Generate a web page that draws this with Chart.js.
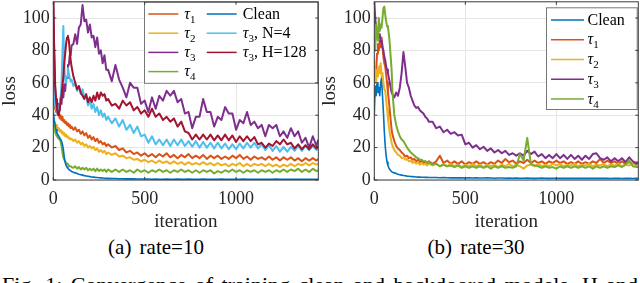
<!DOCTYPE html>
<html>
<head>
<meta charset="utf-8">
<script src="https://cdn.jsdelivr.net/npm/chart.js@4.4.0/dist/chart.umd.min.js"></script>
<style>
  body { margin: 0; background: #fff; }
  #page { position: relative; width: 640px; height: 283px; overflow: hidden;
          font-family: 'Liberation Serif', 'Times New Roman', serif; color: #000; }
  canvas { position: absolute; top: 0; }
  .sub { position: absolute; top: 237px; width: 312px; text-align: center;
         font-size: 21px; line-height: 21px; word-spacing: 3px; }
  #fig { position: absolute; left: 2px; top: 274px; width: 636px;
         font-size: 22px; line-height: 22px; text-align: justify; text-align-last: justify; }
</style>
</head>
<body>
<div id="page">
  <canvas id="c10" width="320" height="232" style="left:0;width:320px;height:232px"></canvas>
  <canvas id="c30" width="320" height="232" style="left:320px;width:320px;height:232px"></canvas>
  <div class="sub" style="left:0">(a) rate=10</div>
  <div class="sub" style="left:320px">(b) rate=30</div>
  <div id="fig">Fig. 1: Convergence of training clean and backdoored models. H and</div>
</div>
<script>
const iters = [0, 5, 10, 15, 20, 25, 30, 35, 40, 45, 50, 55, 60, 65, 70, 75, 80, 85, 90, 95, 100,
  110, 120, 130, 140, 150, 160, 170, 180, 190, 200, 210, 220, 230, 240, 250, 260, 270, 280, 290, 300,
  320, 340, 360, 380, 400, 420, 440, 460, 480, 500, 520, 540, 560, 580, 600, 620, 640, 660, 680, 700,
  720, 740, 760, 780, 800, 820, 840, 860, 880, 900, 920, 940, 960, 980, 1000, 1020, 1040, 1060, 1080, 1100,
  1120, 1140, 1160, 1180, 1200, 1220, 1240, 1260, 1280, 1300, 1320, 1340, 1360, 1380, 1400, 1420, 1440,
  1450]
const xTicks = [0, 500, 1000]

// (a) rate=10
const r10Tau1 = [50, 46, 44, 42, 43, 40, 41, 38, 40, 37, 39, 36, 37, 35, 36, 34, 35, 33, 34, 32, 33,
  31, 32.5, 30, 31, 28.5, 30, 27.5, 29, 26, 27.5, 25, 26.5, 24, 25.5, 23, 24, 22, 23, 21, 22,
  20, 21, 18.5, 19.5, 17, 18, 16, 17, 15, 16.5, 14.5, 16, 14, 16, 14.5, 16.5, 14, 15.5, 13.5, 15.5,
  14, 16, 13.5, 15, 13.5, 15.5, 13, 15, 13.5, 15, 13, 14.5, 13, 15, 13.5, 15.5, 13, 14.5, 12.5, 14.5,
  13, 14, 12.5, 14.5, 12.5, 14, 12, 14, 12.5, 14, 12, 13.5, 11.5, 13.5, 12, 13.5, 12,
  13]
const r10Tau2 = [38, 36, 35, 33, 34, 31, 32, 30, 31, 29, 30, 28, 29, 27, 28, 26.5, 27, 25.5, 26, 25, 25.5,
  24, 25, 23, 24, 22, 23, 21, 22, 20, 21, 19.5, 20.5, 18.5, 19.5, 17.5, 18.5, 17, 18, 16, 17,
  15.5, 16.5, 14.5, 15, 13.5, 14, 12.5, 13, 11.5, 12.5, 11, 12, 10.5, 12, 10.5, 11.5, 10, 11.5, 10, 11,
  9.5, 11, 9.5, 10.5, 9.5, 11, 9.5, 10.5, 9, 10.5, 9, 10, 8.5, 10, 9, 10.5, 8.5, 10, 8.5, 10,
  9, 10, 8.5, 10, 8.5, 9.5, 8, 9.5, 8.5, 10, 8.5, 10, 9, 10.5, 9, 10.5, 9.5,
  10]
const r10Tau3 = [112, 78, 58, 48, 45, 41, 47, 43, 51, 47, 55, 51, 59, 55, 63, 63, 71, 71, 77, 77, 83,
  84, 90, 84, 94, 96, 108, 98, 99, 91, 96, 88, 89, 82, 88, 78, 80, 72, 77, 68, 68,
  61, 71, 62, 57, 51, 60, 57, 57, 47, 49, 42, 51, 44, 52, 49, 55, 52, 55, 48, 50,
  41, 42, 32, 39, 39, 50, 42, 42, 33, 39, 37, 45, 41, 41, 31, 37, 35, 42, 34, 36,
  32, 34, 27, 34, 32, 34, 27, 30, 26, 32, 27, 30, 23, 26, 20, 27, 21,
  25]
const r10Tau4 = [36, 33, 30, 28, 27, 26, 25.5, 25, 24, 21, 17, 14, 12.5, 11.5, 10.5, 10, 9.5, 9, 8.5, 8.5, 8,
  7.5, 8.5, 7, 8, 6.5, 7.5, 6.5, 7.5, 6, 7, 6, 7, 5.5, 7, 5.5, 6.5, 5.5, 6.5, 5, 6.5,
  5, 6.5, 5, 6.5, 5, 6, 4.5, 6.5, 5, 6, 4.5, 6, 5, 6.5, 5, 6, 4.5, 6, 5, 6.5,
  5, 6, 4.5, 6, 4.5, 6, 5, 6, 4, 5.5, 4.5, 6, 5, 6.5, 5, 6, 4.5, 6, 5, 6,
  4.5, 6, 5, 6, 4.5, 6, 5, 6.5, 5, 6.5, 5.5, 7, 5, 6.5, 5, 7, 5.5,
  6]
const r10Clean = [42, 37, 34, 31, 29, 28, 27, 26, 25, 24, 22, 19, 14, 11, 9, 8, 7.2, 6.6, 6.1, 5.7, 5.3,
  4.8, 4.4, 4.0, 3.6, 3.3, 3.0, 2.7, 2.5, 2.3, 2.1, 1.9, 1.8, 1.6, 1.5, 1.4, 1.3, 1.2, 1.1, 1.0, 1.0,
  0.9, 0.9, 0.8, 0.8, 0.7, 0.7, 0.7, 0.6, 0.6, 0.6, 0.6, 0.5, 0.6, 0.5, 0.5, 0.6, 0.5, 0.5, 0.6, 0.5,
  0.5, 0.6, 0.5, 0.4, 0.5, 0.6, 0.5, 0.4, 0.5, 0.5, 0.6, 0.4, 0.5, 0.5, 0.4, 0.5, 0.6, 0.4, 0.5, 0.5,
  0.4, 0.5, 0.5, 0.4, 0.5, 0.6, 0.4, 0.5, 0.4, 0.5, 0.5, 0.4, 0.5, 0.4, 0.5, 0.4, 0.5,
  0.4]
const r10N4 = [62, 52, 46, 44, 42, 44, 43, 47, 50, 60, 78, 95, 70, 62, 60, 64, 69, 66, 63, 61, 62,
  58, 60, 55, 58, 53, 56, 51, 52, 46, 49, 44, 47, 42, 45, 40, 43, 39, 41, 37, 39,
  35, 38, 33, 37, 31, 34, 29, 33, 27, 28, 23, 27, 22, 25, 21.5, 25, 21, 25, 21.5, 25,
  21, 24, 20.5, 24, 20, 23.5, 20, 23, 19.5, 23, 19.5, 22.5, 19, 22, 19, 22.5, 19.5, 23, 20, 23,
  19.5, 22, 18.5, 21.5, 18, 21, 17.5, 20.5, 17.5, 20.5, 18, 21, 18, 21, 18.5, 21, 18.5,
  20]
const r10H128 = [112, 80, 58, 50, 44, 41, 40, 44, 48, 52, 58, 64, 72, 78, 84, 88, 89, 86, 80, 74, 70,
  64, 60, 56, 58, 54, 52, 50, 53, 48, 51, 48, 52, 49, 54, 50, 54, 52, 53, 49, 50,
  46, 47, 44, 49, 46, 48, 43, 45, 41, 43, 39, 44, 39, 41, 37, 39, 36, 38, 33, 36,
  30, 29, 25, 28, 25, 28, 25, 28, 24.5, 27.5, 24.5, 28, 24.5, 27.5, 23.5, 27, 24, 27, 24, 26.5,
  22, 23, 20, 22.5, 21, 24, 22, 25, 22, 23, 19.5, 22, 19, 21.5, 19, 22, 19.5,
  21]

// (b) rate=30
const r30Clean = [40, 58, 52, 60, 54, 57, 52, 60, 63, 52, 42, 30, 21, 15, 11, 9, 7.5, 6.5, 5.8, 5.2, 4.8,
  4.4, 4.0, 3.6, 3.3, 3.0, 2.8, 2.6, 2.4, 2.3, 2.2, 2.1, 2.0, 1.9, 1.8, 1.8, 1.7, 1.7, 1.6, 1.6, 1.5,
  1.5, 1.5, 1.4, 1.5, 1.4, 1.3, 1.4, 1.3, 1.3, 1.2, 1.3, 1.2, 1.3, 1.2, 1.2, 1.3, 1.2, 1.1, 1.2, 1.2,
  1.1, 1.2, 1.1, 1.2, 1.1, 1.1, 1.2, 1.1, 1.0, 1.1, 1.2, 1.1, 1.0, 1.1, 1.1, 1.0, 1.1, 1.0, 1.1, 1.0,
  1.0, 1.1, 1.0, 1.0, 1.1, 1.0, 1.0, 1.1, 1.0, 0.9, 1.0, 1.0, 0.9, 1.0, 1.0, 0.9, 1.0,
  1.0]
const r30Tau1 = [62, 70, 66, 78, 84, 80, 86, 82, 88, 82, 76, 72, 70, 65, 60, 54, 49, 43, 37, 31, 28,
  24, 21, 19.5, 18.5, 17, 16, 14.5, 15, 13.5, 14, 12.5, 13, 11.5, 12.5, 11, 12, 10.5, 11.5, 10.5, 11.5,
  10, 11.5, 15, 10.5, 12, 10, 11.5, 10, 11.5, 9.5, 11, 10, 11.5, 10, 11, 9.5, 11, 10, 12, 10.5,
  13, 11, 12, 10, 11.5, 10.5, 12.5, 10.5, 12, 10.5, 11.5, 10, 11.5, 10.5, 12, 10.5, 11.5, 10, 11, 10,
  11.5, 10, 11, 10, 11.5, 10.5, 13, 10.5, 12, 10.5, 11.5, 10, 11.5, 10, 11, 10, 11,
  10.5]
const r30Tau2 = [74, 66, 60, 68, 64, 70, 66, 72, 64, 66, 60, 56, 55, 50, 44, 38, 33, 29, 26, 23, 21,
  18.5, 17, 15.5, 15, 13.5, 14, 12.5, 13, 11.5, 12, 10.5, 11.5, 10, 11, 9.5, 10.5, 9.5, 10, 9, 10,
  9, 10, 8.5, 9.5, 8.5, 10, 8.5, 9.5, 8, 9.5, 8.5, 10, 8.5, 9.5, 8, 9.5, 8.5, 9.5, 8, 9.5,
  8.5, 10, 8.5, 9.5, 8.5, 7, 9, 9.5, 8.5, 10, 8.5, 9.5, 8.5, 10, 9, 10, 8.5, 9.5, 9, 10,
  8.5, 9.5, 9, 10, 8.5, 9.5, 9, 10, 8.5, 9.5, 9, 10, 8.5, 9.5, 9, 10, 9,
  9.5]
const r30Tau3 = [111, 100, 94, 90, 92, 88, 90, 85, 86, 82, 80, 76, 74, 70, 68, 66, 63, 60, 57, 54, 53,
  51, 54, 52, 57, 66, 79, 70, 60, 57, 52, 49, 46, 44.5, 45, 43, 42, 41, 39, 38, 36,
  36, 32, 33, 29.5, 31, 28.5, 29.5, 27.5, 28, 22, 23, 20, 21.5, 19, 20.5, 18, 19.5, 17, 18.5, 16.5,
  18, 15.5, 16.5, 15, 16.5, 15, 18, 16, 17.5, 14.5, 16, 13.5, 15.5, 13.5, 16, 13.5, 15.5, 13, 15.5, 13,
  15, 12.5, 15, 13, 16, 16.5, 13.5, 12.5, 14, 11.5, 13.5, 11.5, 13.5, 11, 14, 11.5, 10,
  11]
const r30Tau4 = [88, 80, 96, 90, 86, 100, 92, 96, 94, 100, 106, 107, 102, 98, 95, 94, 90, 84, 76, 68, 54,
  40, 34, 30, 27, 25, 24, 22, 20, 18.5, 17, 16, 15, 14, 13.5, 12.5, 12.5, 11.5, 11.5, 10.5, 11,
  9.5, 10, 8.5, 9.5, 8.5, 9, 8, 9, 7.5, 8.5, 7.5, 8.5, 7.5, 8.5, 7.5, 8.5, 7, 8.5, 7.5, 8.5,
  7.5, 8, 7.5, 8.5, 16, 12, 26, 10, 9, 8.5, 7.5, 8.5, 7.5, 8, 7, 8.5, 7.5, 8.5, 7.5, 8.5,
  7.5, 8.5, 7.5, 8.5, 7, 8.5, 7.5, 8.5, 7.5, 8.5, 8, 9, 8, 9.5, 12, 8.5, 8,
  8]

const serif = "'Liberation Serif', 'Times New Roman', serif"
const axisText = '#262626'

function pts(values) {
  return iters.map((x, i) => ({ x: x, y: values[i] }))
}

function line(label, values, color, order, width) {
  return {
    label: label, data: pts(values), borderColor: color, backgroundColor: color,
    borderWidth: width || 2, pointRadius: 0, tension: 0, fill: false, order: order,
    borderJoinStyle: 'round'
  }
}

// label with the subscript digit drawn smaller and lower
function drawLabel(ctx, text, x, y) {
  for (const ch of text) {
    const sub = '₀₁₂₃₄₅₆₇₈₉'.indexOf(ch)
    if (sub >= 0) {
      ctx.font = '11px ' + serif
      ctx.fillText(String(sub), x, y + 4)
      x += ctx.measureText(String(sub)).width
    } else {
      ctx.font = (ch === 'τ' ? 'italic ' : '') + '16px ' + serif
      ctx.fillText(ch, x, y)
      x += ctx.measureText(ch).width
    }
  }
}

const framePlugin = {
  id: 'frame',
  afterDatasetsDraw(chart, args, opts) {
    const ctx = chart.ctx
    const a = chart.chartArea
    ctx.save()
    // legend box inside the axes
    const lg = opts.legend
    const bx = a.right - lg.width + lg.dx, by = a.top + lg.dy
    ctx.fillStyle = '#fff'
    ctx.fillRect(bx, by, lg.width, lg.height)
    ctx.strokeStyle = '#777'
    ctx.lineWidth = 1
    ctx.strokeRect(bx + 0.5, by + 0.5, lg.width - 1, lg.height - 1)
    ctx.textBaseline = 'alphabetic'
    ctx.fillStyle = '#000'
    lg.columns.forEach((col, c) => {
      col.forEach((di, r) => {
        const ds = chart.data.datasets[di]
        const y = by + lg.firstRow + r * lg.rowGap
        const lx = bx + lg.colX[c]
        ctx.strokeStyle = ds.borderColor
        ctx.lineWidth = 1.5
        ctx.beginPath()
        ctx.moveTo(lx, y)
        ctx.lineTo(lx + lg.lineLen, y)
        ctx.stroke()
        drawLabel(ctx, ds.label, lx + lg.lineLen + lg.gap, y + 4.5)
      })
    })
    // axes box with inward ticks
    ctx.strokeStyle = '#3a3a3a'
    ctx.lineWidth = 1
    ctx.strokeRect(a.left, a.top, a.right - a.left, a.bottom - a.top)
    const xs = chart.scales.x, ys = chart.scales.y
    ctx.beginPath()
    xs.ticks.forEach(t => {
      const px = xs.getPixelForValue(t.value)
      ctx.moveTo(px, a.bottom); ctx.lineTo(px, a.bottom - 3)
      ctx.moveTo(px, a.top); ctx.lineTo(px, a.top + 3)
    })
    ys.ticks.forEach(t => {
      const py = ys.getPixelForValue(t.value)
      ctx.moveTo(a.left, py); ctx.lineTo(a.left + 3, py)
      ctx.moveTo(a.right, py); ctx.lineTo(a.right - 3, py)
    })
    ctx.stroke()
    ctx.restore()
  }
}

function makeChart(id, datasets, yWidth, legend) {
  return new Chart(document.getElementById(id), {
    type: 'line',
    data: { datasets: datasets },
    options: {
      responsive: false,
      animation: false,
      events: [],
      layout: { padding: { top: 1.8, right: 1.7, left: 0, bottom: 0 } },
      plugins: { legend: { display: false }, tooltip: { enabled: false }, frame: { legend: legend } },
      scales: {
        x: {
          type: 'linear', min: 0, max: 1450,
          afterBuildTicks(s) { s.ticks = xTicks.map(v => ({ value: v })) },
          ticks: { padding: 8, maxRotation: 0, autoSkip: false, callback: v => String(v),
                   color: axisText, font: { family: serif, size: 18 } },
          grid: { color: '#e6e6e6', drawTicks: false },
          border: { display: false },
          title: { display: true, text: 'iteration', color: axisText, padding: 0,
                   font: { family: serif, size: 19, lineHeight: 1.05 } },
          afterFit(s) { s.height = 52; s.paddingLeft = 0; s.paddingRight = 0 }
        },
        y: {
          type: 'linear', min: 0, max: 110,
          ticks: { stepSize: 20, includeBounds: false, padding: 3.5, callback: v => String(v),
                   color: axisText, font: { family: serif, size: 18 } },
          grid: { color: '#e6e6e6', drawTicks: false },
          border: { display: false },
          title: { display: true, text: 'loss', color: axisText, padding: 0,
                   font: { family: serif, size: 19, lineHeight: 1.05 } },
          afterFit(s) { s.width = yWidth; s.paddingTop = 0; s.paddingBottom = 0 }
        }
      }
    },
    plugins: [framePlugin]
  })
}

const blue = '#0072BD', orange = '#D95319', yellow = '#EDB120', purple = '#7E2F8E',
  green = '#77AC30', cyan = '#4DBEEE', darkRed = '#A2142F'

makeChart('c10', [
  line('τ₁', r10Tau1, orange, 7),
  line('τ₂', r10Tau2, yellow, 6),
  line('τ₃', r10Tau3, purple, 5),
  line('τ₄', r10Tau4, green, 4),
  line('Clean', r10Clean, blue, 3, 1.6),
  line('τ₃, N=4', r10N4, cyan, 2),
  line('τ₃, H=128', r10H128, darkRed, 1)
], 53.3, { width: 174.3, height: 82, dx: 0, dy: 0, firstRow: 12.2, rowGap: 19.2,
           colX: [4.3, 62.7], lineLen: 30, gap: 6, columns: [[0, 1, 2, 3], [4, 5, 6]] })

makeChart('c30', [
  line('Clean', r30Clean, blue, 5, 1.6),
  line('τ₁', r30Tau1, orange, 4),
  line('τ₂', r30Tau2, yellow, 3),
  line('τ₃', r30Tau3, purple, 2),
  line('τ₄', r30Tau4, green, 1)
], 54.3, { width: 91.7, height: 102.7, dx: -0.6, dy: 5.5, firstRow: 12.7, rowGap: 19.75,
           colX: [5], lineLen: 33, gap: 3.5, columns: [[0, 1, 2, 3, 4]] })
</script>
</body>
</html>
